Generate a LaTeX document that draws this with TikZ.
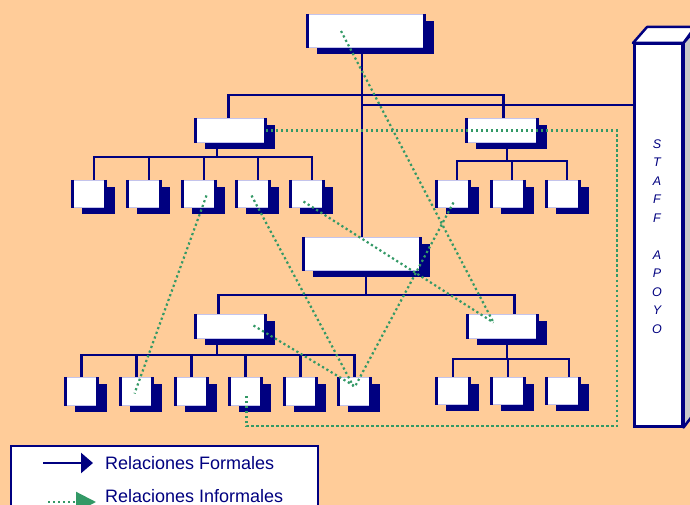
\documentclass[tikz,border=0pt]{standalone}
\usepackage{fontspec}
\setmainfont{Liberation Sans}
\setsansfont{Liberation Sans}
\usetikzlibrary{shadows,arrows.meta,calc}

\definecolor{navy}{RGB}{0,0,128}
\definecolor{peach}{RGB}{255,204,153}
\definecolor{lavender}{RGB}{196,196,236}
\definecolor{infgreen}{RGB}{51,153,102}
\definecolor{sidegray}{RGB}{200,200,200}

\pgfdeclarelayer{paper}
\pgfdeclarelayer{wires}
\pgfsetlayers{paper,wires,main}

\tikzset{
  orgbox/.style={draw=lavender, line width=1pt, fill=white, inner sep=0pt,
    anchor=north west,
    general shadow={fill=navy, shadow xshift=9pt, shadow yshift=-6.5pt}},
  boxbar/.style={draw=navy, line width=3pt},
  formal/.style={draw=navy, line width=2.5pt},
  informal/.style={draw=infgreen, line width=2.2pt, dash pattern=on 2.2pt off 2.8pt},
  legendtext/.style={text=navy, anchor=west, inner sep=2pt,
    font=\fontsize{18}{20}\selectfont},
}

% an organisational unit: name, left, top, width, height
\newcommand\orgunit[5]{%
  \node[orgbox, minimum width=#4pt, minimum height=#5pt] (#1) at (#2,#3) {};
  \draw[boxbar] ([xshift=0.5pt]#1.north west) -- ([xshift=0.5pt]#1.south west)
                ([xshift=-0.5pt]#1.north east) -- ([xshift=-0.5pt]#1.south east);
}

\begin{document}
\begin{tikzpicture}[x=1pt,y=-1pt]
\useasboundingbox (0,0) rectangle (690,505);
\clip (0,0) rectangle (690,505);
\begin{pgfonlayer}{paper}
  \fill[peach] (0,0) rectangle (690,505);
\end{pgfonlayer}

% ---- units ----
\orgunit{T}{307}{14}{117}{33}
\orgunit{M}{303}{237}{117}{33}
\orgunit{L2a}{195}{118}{70}{24}
\orgunit{L2b}{466}{118}{71}{24}
\orgunit{L2c}{195}{314}{70}{24}
\orgunit{L2d}{467}{314}{70}{24}

\foreach \n/\x in {1/72,2/127,3/182,4/236,5/290}
  {\orgunit{tl\n}{\x}{180}{33}{27}}
\foreach \n/\x in {1/436,2/491,3/546}
  {\orgunit{tr\n}{\x}{180}{33}{27}}
\foreach \n/\x in {1/65,2/120,3/175,4/229,5/284,6/338}
  {\orgunit{bl\n}{\x}{377}{32}{28}}
\foreach \n/\x in {1/436,2/491,3/546}
  {\orgunit{br\n}{\x}{377}{33}{27}}

% ---- staff column ----
\node[draw=navy, line width=2.5pt, fill=white, anchor=north west, inner sep=0pt,
      minimum width=48pt, minimum height=382pt] (staff) at (633,43) {};
\filldraw[fill=white, draw=navy, line width=2.5pt, line join=round]
  (staff.north west) -- ++(14,-16) -- ++(48,0) -- (staff.north east) -- cycle;
\filldraw[fill=sidegray, draw=navy, line width=2.5pt, line join=round]
  (staff.north east) -- ++(14,-16) -- ++(0,382) -- (staff.south east) -- cycle;
\node[text=navy, align=center, inner sep=0pt,
      font=\fontsize{12.5}{18.5}\selectfont\itshape] (stafflbl) at (657,236.5)
  {S\\T\\A\\F\\F\\[18.5pt]A\\P\\O\\Y\\O};

% ---- formal lines ----
\coordinate (busA) at (362,95);
\coordinate (busS) at (362,105);
\coordinate (busB) at (217,157);
\coordinate (busC) at (507,161);
\coordinate (busD) at (366,295);
\coordinate (busE) at (217,355);
\coordinate (busF) at (507,359);

\begin{pgfonlayer}{wires}
  \draw[formal] (T.south -| M.north) -- (M.north);
  \draw[formal] ($(L2a.north)+(-2,0)$) |- (busA) -| ($(L2b.north)+(1.5,0)$);
  \draw[formal] (busS) -- (busS -| staff.west);

  \draw[formal] (L2a.south -| busB) -- (busB);
  \foreach \n in {1,...,5}
    {\draw[formal] ($(tl\n.north)+(5,0)$) |- (busB);}

  \draw[formal] (L2b.south -| busC) -- (busC);
  \foreach \n in {1,2,3}
    {\draw[formal] ($(tr\n.north)+(4,0)$) |- (busC);}

  \draw[formal] (M.south -| busD) -- (busD);
  \draw[formal] ($(L2c.north)+(-12,0)$) |- (busD);
  \draw[formal] ($(L2d.north)+(12,0)$) |- (busD);

  \draw[formal] (L2c.south -| busE) -- (busE);
  \foreach \n in {1,...,6}
    {\draw[formal] (bl\n.north) |- (busE);}

  \draw[formal] (L2d.south -| busF) -- (busF);
  \foreach \n/\dx in {1/0,2/0,3/6}
    {\draw[formal] ($(br\n.north)+(\dx,0)$) |- (busF);}
\end{pgfonlayer}

% ---- informal lines ----
\coordinate (loopSE) at (617,426);
\draw[informal] ($(T.center)+(-25,0)$) -- ($(L2d.center)+(-9,-4)$);
\draw[informal] (L2a.east) -| (loopSE) -| ($(bl4.center)+(1,2)$);
\draw[informal] ($(tl3.center)+(7.5,1.5)$) -- ($(bl2.center)+(-2,2)$);
\draw[informal] ($(tl4.center)+(-1.5,1.5)$) -- ($(bl6.center)+(-1,-5)$);
\draw[informal] ($(tl5.center)+(-3.5,7.5)$) -- ($(L2d.center)+(-9,-4)$);
\draw[informal] ($(tr1.center)+(0.5,8.5)$) -- ($(bl6.center)+(0,-4)$);
\draw[informal] ($(L2c.center)+(23,-1)$) -- ($(bl6.center)+(-1,-6)$);

% ---- legend ----
\node[draw=navy, line width=1.5pt, fill=white, anchor=north west, inner sep=0pt,
      minimum width=307pt, minimum height=80pt] (legend) at (10,445) {};
\node[legendtext] (legF) at (103,463) {Relaciones Formales};
\node[legendtext] (legI) at (103,496) {Relaciones Informales};
\coordinate (legFa) at (43,463);
\coordinate (legIa) at (48,502);
\draw[formal, -{Triangle[length=12pt,width=20pt]}] (legFa) -- ([xshift=-10pt]legF.west);
\draw[informal, -{Triangle[length=20pt,width=20pt,fill=infgreen]}]
  (legIa) -- ([xshift=-7pt,yshift=-6pt]legI.west);
\end{tikzpicture}
\end{document}
